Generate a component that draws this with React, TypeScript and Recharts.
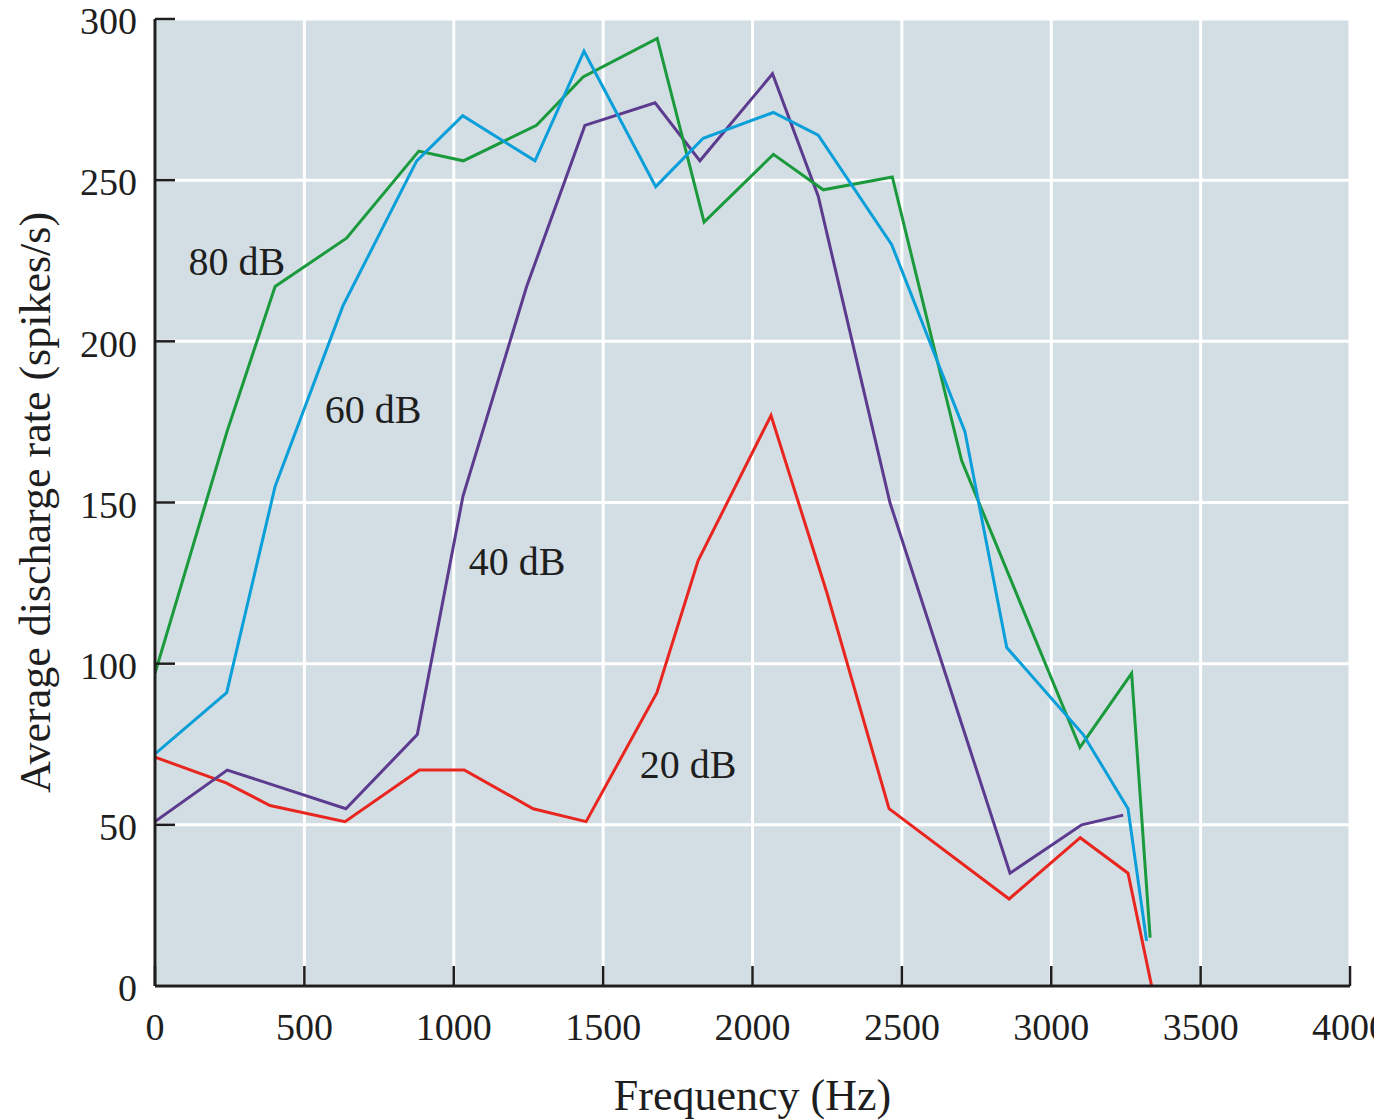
import { LineChart, Line, XAxis, YAxis, CartesianGrid, ReferenceDot } from 'recharts';

// 80 dB
const freq80 = [0, 241, 402, 641, 883, 1032, 1277, 1433, 1681, 1838, 2070, 2237, 2468, 2700, 3096, 3269, 3331];
const rate80 = [97, 172, 217, 232, 259, 256, 267, 282, 294, 237, 258, 247, 251, 163, 74, 97, 15];

// 60 dB
const freq60 = [0, 240, 402, 629, 876, 1030, 1272, 1436, 1676, 1835, 2070, 2220, 2466, 2711, 2851, 3107, 3257, 3319];
const rate60 = [72, 91, 155, 211, 256, 270, 256, 290, 248, 263, 271, 264, 230, 172, 105, 78, 55, 14];

// 40 dB
const freq40 = [0, 242, 639, 878, 1031, 1244, 1439, 1674, 1824, 2067, 2220, 2460, 2862, 3102, 3241];
const rate40 = [51, 67, 55, 78, 152, 217, 267, 274, 256, 283, 245, 150, 35, 50, 53];

// 20 dB
const freq20 = [0, 238, 385, 636, 885, 1035, 1266, 1443, 1680, 1818, 2062, 2249, 2457, 2859, 3097, 3257, 3336];
const rate20 = [71, 63, 56, 51, 67, 67, 55, 51, 91, 132, 177, 122, 55, 27, 46, 35, 0];

const xTicks = [0, 500, 1000, 1500, 2000, 2500, 3000, 3500, 4000];
const yTicks = [0, 50, 100, 150, 200, 250, 300];

// where the curve names sit (frequency, rate)
const curveLabels = [
  { text: '80 dB', f: 274, v: 225, color: '#1a9a3c' },
  { text: '60 dB', f: 730, v: 179, color: '#0a9fd8' },
  { text: '40 dB', f: 1212, v: 132, color: '#5c3b8f' },
  { text: '20 dB', f: 1784, v: 69, color: '#e8261f' },
];

const zip = (fs: number[], vs: number[]) => fs.map((f, i) => ({ f, v: vs[i] }));

const FONT = '"Liberation Serif", "Times New Roman", serif';
const INK = '#1e1e1e';

function XTick({ x, y, payload }: any) {
  return (
    <g>
      <line x1={x} y1={y} x2={x} y2={y - 20} stroke={INK} strokeWidth={2.5} />
      <text x={x} y={y + 41} textAnchor="middle" dy="0.35em" fontFamily={FONT} fontSize={38} fill={INK}>
        {payload.value}
      </text>
    </g>
  );
}

function YTick({ x, y, payload }: any) {
  return (
    <g>
      {payload.value > 0 && <line x1={x} y1={y} x2={x + 20} y2={y} stroke={INK} strokeWidth={2.5} />}
      <text x={x - 18} y={y + 2} textAnchor="end" dy="0.35em" fontFamily={FONT} fontSize={38} fill={INK}>
        {payload.value}
      </text>
    </g>
  );
}

export default function App() {
  return (
    <div style={{ position: 'absolute', left: 0, top: 0, background: '#fff' }}>
      <LineChart width={1374} height={1120} margin={{ top: 19, right: 24, bottom: 0, left: 0 }}>
        <CartesianGrid fill="#d3dee4" stroke="#ffffff" strokeWidth={3} fillOpacity={1} />
        <XAxis
          type="number"
          dataKey="f"
          domain={[0, 4000]}
          ticks={xTicks}
          height={134}
          tickSize={0}
          tickMargin={0}
          tick={<XTick />}
          axisLine={{ stroke: INK, strokeWidth: 3 }}
          allowDataOverflow
          label={{ value: 'Frequency (Hz)', position: 'insideBottom', offset: 10, fontFamily: FONT, fontSize: 44, fill: INK }}
        />
        <YAxis
          type="number"
          domain={[0, 300]}
          ticks={yTicks}
          width={155}
          tickSize={0}
          tickMargin={0}
          tick={<YTick />}
          axisLine={{ stroke: INK, strokeWidth: 3 }}
          label={{
            value: 'Average discharge rate (spikes/s)',
            angle: -90,
            position: 'insideLeft',
            offset: 34,
            style: { textAnchor: 'middle' },
            fontFamily: FONT,
            fontSize: 44,
            fill: INK,
          }}
        />
        <Line data={zip(freq20, rate20)} dataKey="v" type="linear" stroke="#e8261f" strokeWidth={3} dot={false} isAnimationActive={false} />
        <Line data={zip(freq40, rate40)} dataKey="v" type="linear" stroke="#5c3b8f" strokeWidth={3} dot={false} isAnimationActive={false} />
        <Line data={zip(freq80, rate80)} dataKey="v" type="linear" stroke="#1a9a3c" strokeWidth={3} dot={false} isAnimationActive={false} />
        <Line data={zip(freq60, rate60)} dataKey="v" type="linear" stroke="#0a9fd8" strokeWidth={3} dot={false} isAnimationActive={false} />
        {curveLabels.map((c) => (
          <ReferenceDot
            key={c.text}
            x={c.f}
            y={c.v}
            r={1}
            fill="none"
            stroke="none"
            label={{ value: c.text, position: 'center', fontFamily: FONT, fontSize: 40, fill: INK }}
          />
        ))}
      </LineChart>
    </div>
  );
}
